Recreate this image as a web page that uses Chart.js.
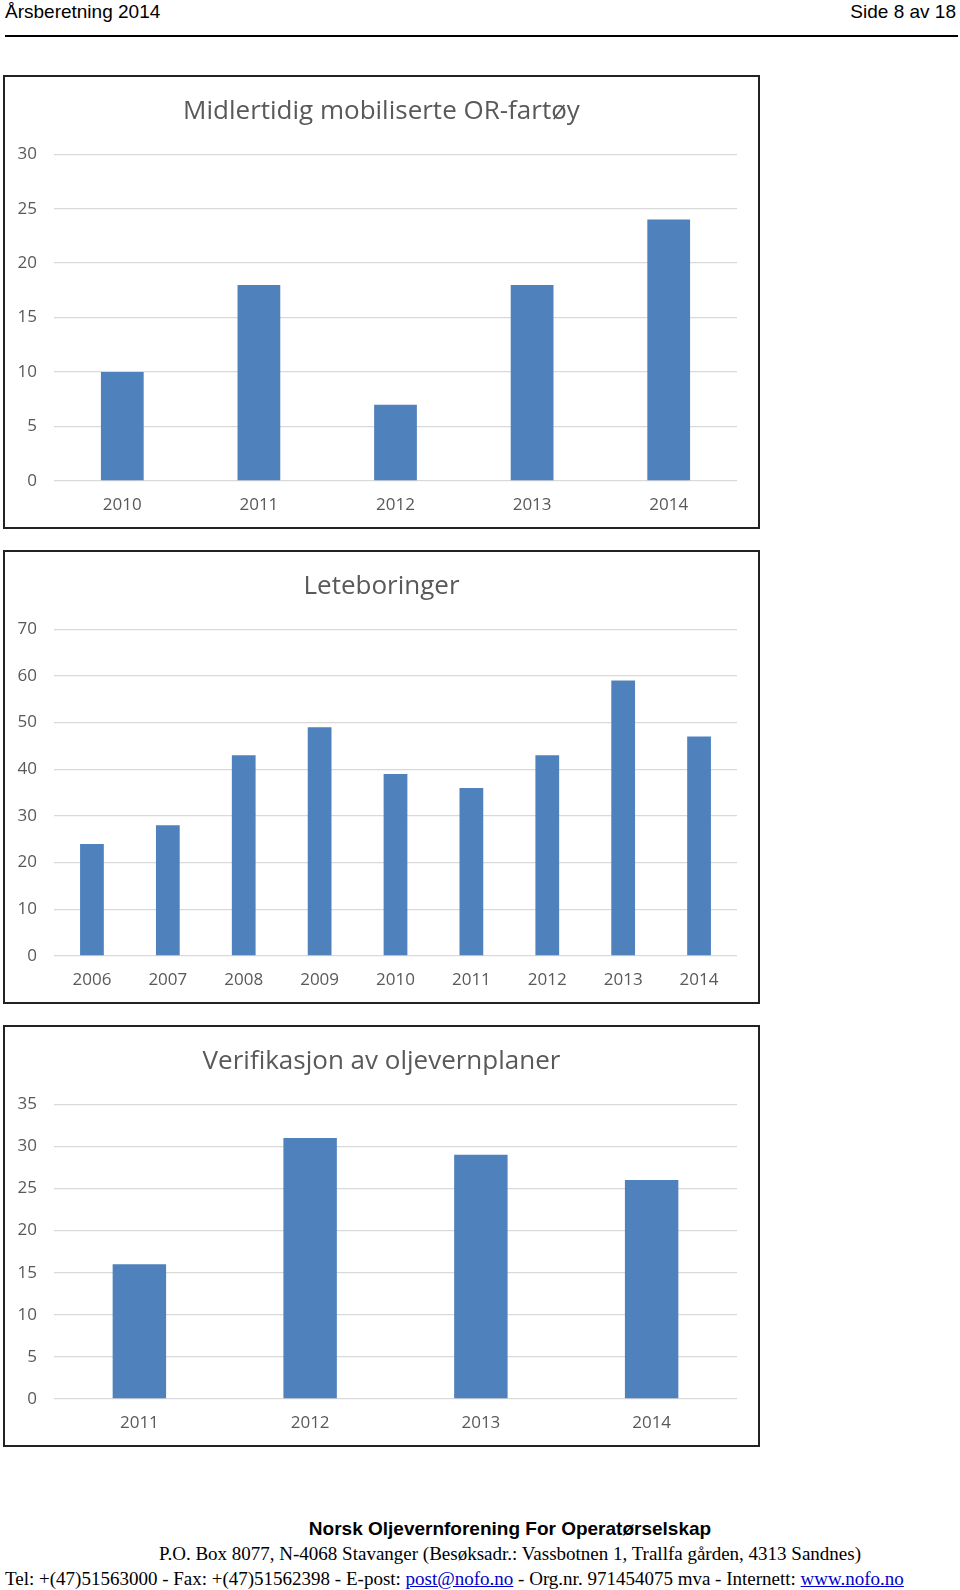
<!DOCTYPE html>
<html>
<head>
<meta charset="utf-8">
<script src="https://cdn.jsdelivr.net/npm/chart.js@4/dist/chart.umd.min.js"></script>
<style>
  body { margin: 0; width: 960px; height: 1590px; background: #fff; overflow: hidden; position: relative; }
  .hdr { position: absolute; top: 1px; font: 19px "Liberation Sans", Arial, sans-serif; color: #000; }
  .rule { position: absolute; left: 5px; top: 35px; width: 953px; height: 2px; background: #000; }
  .box { position: absolute; left: 3px; width: 753px; border: 2px solid #222; background: #fff; }
  .foot { position: absolute; white-space: nowrap; color: #000; }
  .foot a { color: #00c; text-decoration: underline; }
</style>
</head>
<body>
<div class="hdr" style="left:5px">Årsberetning 2014</div>
<div class="hdr" style="right:4px">Side 8 av 18</div>
<div class="rule"></div>

<div class="box" style="top:75px;height:450px"><canvas id="c1"></canvas></div>
<div class="box" style="top:550px;height:450px"><canvas id="c2"></canvas></div>
<div class="box" style="top:1025px;height:418px"><canvas id="c3"></canvas></div>

<div class="foot" style="left:0;width:1020px;text-align:center;top:1518px;font:bold 19px 'Liberation Sans',Arial,sans-serif">Norsk Oljevernforening For Operatørselskap</div>
<div class="foot" style="left:0;width:1020px;text-align:center;top:1543px;font:19px 'Liberation Serif','Times New Roman',serif">P.O. Box 8077, N-4068 Stavanger (Besøksadr.: Vassbotnen 1, Trallfa gården, 4313 Sandnes)</div>
<div class="foot" style="left:5px;top:1568px;font:19px 'Liberation Serif','Times New Roman',serif">Tel: +(47)51563000 - Fax: +(47)51562398 - E-post: <a>post@nofo.no</a> - Org.nr. 971454075 mva - Internett: <a>www.nofo.no</a></div>

<script>
const title1 = "Midlertidig mobiliserte OR-fartøy";
const years1 = ["2010", "2011", "2012", "2013", "2014"];
const values1 = [10, 18, 7, 18, 24];

const title2 = "Leteboringer";
const years2 = ["2006", "2007", "2008", "2009", "2010", "2011", "2012", "2013", "2014"];
const values2 = [24, 28, 43, 49, 39, 36, 43, 59, 47];

const title3 = "Verifikasjon av oljevernplaner";
const years3 = ["2011", "2012", "2013", "2014"];
const values3 = [16, 31, 29, 26];

const barColor = "#4F81BD";
const textColor = "#595959";
const gridColor = "#D9D9D9";
const fontFamily = "'Open Sans', sans-serif";

function makeChart(id, title, labels, values, yMax, yStep) {
  return new Chart(document.getElementById(id), {
    type: "bar",
    data: {
      labels: labels,
      datasets: [{
        data: values,
        backgroundColor: barColor,
        categoryPercentage: 1,
        barPercentage: 0.313,
      }],
    },
    options: {
      responsive: true,
      maintainAspectRatio: false,
      animation: false,
      layout: { padding: 0 },
      plugins: {
        legend: { display: false },
        tooltip: { enabled: false },
        title: {
          display: true,
          text: title,
          color: textColor,
          font: { family: fontFamily, size: 26, weight: "normal" },
          padding: { top: 19, bottom: 27 },
        },
      },
      scales: {
        x: {
          grid: { display: false, drawTicks: false },
          border: { display: false },
          ticks: { color: textColor, font: { family: fontFamily, size: 17 }, padding: 14 },
          afterFit: (s) => { s.height = 46; },
        },
        y: {
          min: 0,
          max: yMax,
          grid: { color: gridColor, lineWidth: 1.3, drawTicks: false },
          border: { display: false },
          ticks: { stepSize: yStep, color: textColor, font: { family: fontFamily, size: 17 }, padding: 17 },
          afterFit: (s) => { s.width = 49; },
        },
        // empty right-hand axis, only keeps the right margin of the plot
        yRight: {
          position: "right",
          grid: { display: false, drawTicks: false },
          border: { display: false },
          ticks: { display: false },
          afterFit: (s) => { s.width = 21; },
        },
      },
    },
  });
}

makeChart("c1", title1, years1, values1, 30, 5);
makeChart("c2", title2, years2, values2, 70, 10);
makeChart("c3", title3, years3, values3, 35, 5);
</script>
</body>
</html>
